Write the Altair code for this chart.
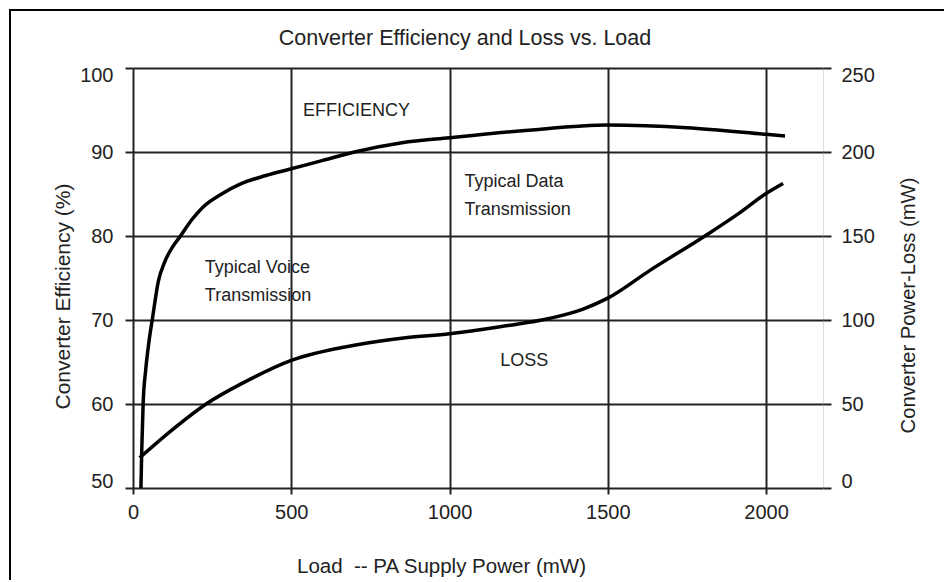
import altair as alt
import pandas as pd

# ---- data ----
eff_load = [25, 28, 32, 40, 50, 62, 80, 100, 125, 150, 185, 220, 280, 340, 420, 500,
            600, 700, 850, 1000, 1250, 1500, 1750, 2000, 2060]
eff_pct = [50, 55, 60, 64, 67.3, 70.3, 74.6, 76.9, 78.7, 80.0, 81.9, 83.4, 85.0, 86.2, 87.2, 88.0,
           89.0, 90.0, 91.1, 91.7, 92.6, 93.2, 92.9, 92.1, 91.9]

loss_load = [21, 120, 231, 352, 500, 708, 861, 1000, 1160, 1318, 1422, 1500, 1632, 1807, 1913, 2000, 2054]
loss_mw = [18, 34, 50, 63, 76, 85.3, 89.4, 91.8, 96, 101, 106.5, 113, 129.4, 150, 163.3, 175.3, 181.3]

note_text = ["EFFICIENCY", "Typical Voice", "Transmission", "Typical Data", "Transmission", "LOSS"]
note_load = [537, 227, 227, 1047, 1047, 1160]
note_pct = [94.9, 76.2, 72.9, 86.4, 83.1, 65.1]

x_ticks = [0, 500, 1000, 1500, 2000]
left_ticks = [50, 60, 70, 80, 90, 100]
right_ticks = [0, 50, 100, 150, 200, 250]

FONT = "Liberation Sans"
TXT = "#222222"

eff_df = pd.DataFrame({"load": eff_load, "eff": eff_pct})
loss_df = pd.DataFrame({"load": loss_load, "loss": loss_mw})
note_df = pd.DataFrame({"text": note_text, "load": note_load, "eff": note_pct})

x_scale = alt.Scale(domain=[0, 2180], nice=False, zero=False)
y_left = alt.Scale(domain=[50, 100], nice=False, zero=False)
y_right = alt.Scale(domain=[0, 250], nice=False, zero=False)

x_axis = alt.Axis(
    values=x_ticks, format="d", grid=True, gridColor=TXT, gridWidth=2,
    tickSize=6, tickWidth=2, tickColor=TXT, domain=False,
    labelFont=FONT, labelFontSize=20, labelColor=TXT, labelPadding=8, labelFlush=False,
    title="Load\u00a0 -- PA Supply Power (mW)", titleFont=FONT, titleFontSize=20.5,
    titleFontWeight="normal", titleColor=TXT, titleX=308, titleY=78,
    titleBaseline="middle", titleAlign="center",
)

left_axis = alt.Axis(
    values=left_ticks, grid=True, gridColor=TXT, gridWidth=2,
    tickSize=8, tickWidth=2, tickColor=TXT, domain=False,
    labelFont=FONT, labelFontSize=20, labelColor=TXT, labelPadding=12,
    labelFlush=True, labelFlushOffset=3,
    title="Converter Efficiency (%)", titleFont=FONT, titleFontSize=21,
    titleFontWeight="normal", titleColor=TXT, titleX=-70, titleY=228,
    titleAngle=270, titleBaseline="middle", titleAlign="center",
)

right_axis = alt.Axis(
    values=right_ticks, grid=False, orient="right",
    tickSize=8, tickWidth=2, tickColor=TXT, domain=False,
    labelFont=FONT, labelFontSize=20, labelColor=TXT, labelPadding=10,
    labelFlush=True, labelFlushOffset=3,
    title="Converter Power-Loss (mW)", titleFont=FONT, titleFontSize=20.2,
    titleFontWeight="normal", titleColor=TXT, titleX=85, titleY=237,
    titleAngle=270, titleBaseline="middle", titleAlign="center",
)

eff_line = alt.Chart(eff_df).mark_line(
    color="black", strokeWidth=3.5, interpolate="monotone"
).encode(
    x=alt.X("load:Q", scale=x_scale, axis=x_axis),
    y=alt.Y("eff:Q", scale=y_left, axis=left_axis),
)

notes = alt.Chart(note_df).mark_text(
    align="left", baseline="middle", font=FONT, fontSize=18, color=TXT
).encode(
    x=alt.X("load:Q", scale=x_scale),
    y=alt.Y("eff:Q", scale=y_left),
    text="text:N",
)

frame_src = alt.Data(values=[{"a": 1}])
border_left = alt.Chart(frame_src).mark_rule(color="black", strokeWidth=2).encode(
    x=alt.value(-123), y=alt.value(-58), y2=alt.value(560)
)
border_top = alt.Chart(frame_src).mark_rule(color="black", strokeWidth=2).encode(
    x=alt.value(-124), x2=alt.value(900), y=alt.value(-58)
)

loss_line = alt.Chart(loss_df).mark_line(
    color="black", strokeWidth=3.5, interpolate="monotone"
).encode(
    x=alt.X("load:Q", scale=x_scale, axis=x_axis),
    y=alt.Y("loss:Q", scale=y_right, axis=right_axis),
)

left_layer = alt.layer(eff_line, notes, border_left, border_top)

chart = alt.layer(left_layer, loss_line).resolve_scale(
    y="independent"
).properties(
    width=690, height=420,
    autosize=alt.AutoSizeParams(type="none"),
    padding={"left": 125, "top": 60, "right": 121, "bottom": 92},
    title=alt.TitleParams(
        "Converter Efficiency and Loss vs. Load", font=FONT, fontSize=21.5,
        fontWeight="normal", color=TXT, frame="group", anchor="middle",
        dx=-13, offset=0, dy=51, baseline="middle",
    ),
).configure_view(
    stroke="black", strokeWidth=3
).configure(background="white")

chart.save("out.html", embed_options={"renderer": "svg", "actions": False})
